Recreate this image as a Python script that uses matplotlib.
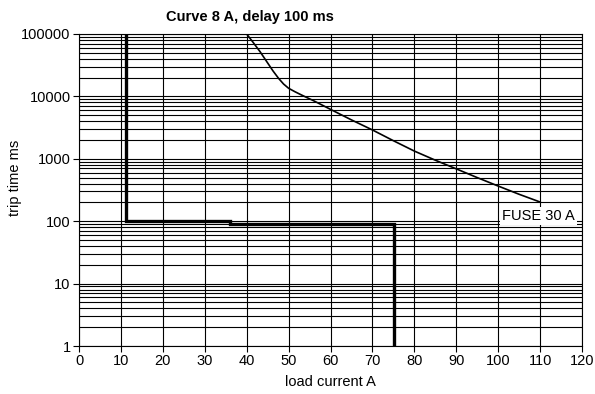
import matplotlib
matplotlib.use("Agg")
import matplotlib.pyplot as plt
from matplotlib.ticker import LogLocator, FixedLocator, NullFormatter

plt.rcParams['font.family'] = ['Liberation Sans', 'DejaVu Sans']

# Fuse 30 A characteristic (load current A, trip time ms)
fuse_current = [40, 41.5, 43.2, 44.8, 46.3, 47.6, 48.8, 50, 51.5, 53, 56, 60, 65, 70, 75, 80, 85, 90, 95, 100, 105, 110]
fuse_time = [100000, 74000, 52000, 36000, 25500, 19500, 15800, 13500, 11900, 10600, 8500, 6200, 4200, 2900, 1950, 1330, 950, 690, 500, 366, 270, 203]

# Electronic breaker curve 8 A, delay 100 ms (step)
step_current = [11.2, 11.2, 36, 36, 75.2, 75.2]
step_time = [100000, 100, 100, 90, 90, 1]

x_ticks = [0, 10, 20, 30, 40, 50, 60, 70, 80, 90, 100, 110, 120]
y_ticks = [1, 10, 100, 1000, 10000, 100000]
y_labels = ['1', '10', '100', '1000', '10000', '100000']

fig = plt.figure(figsize=(5.95, 3.94), dpi=100)
ax = fig.add_axes([79/595, 48/394, 503/595, 312/394])

ax.set_yscale('log')
ax.set_xlim(0, 120)
ax.set_ylim(1, 100000)

ax.xaxis.set_major_locator(FixedLocator(x_ticks))
ax.set_xticklabels([str(t) for t in x_ticks])
ax.yaxis.set_major_locator(FixedLocator(y_ticks))
ax.set_yticklabels(y_labels)
ax.yaxis.set_minor_locator(LogLocator(base=10, subs=range(2, 10)))
ax.yaxis.set_minor_formatter(NullFormatter())

ax.grid(True, which='major', color='black', lw=0.8)
ax.grid(True, which='minor', axis='y', color='black', lw=0.8)
ax.tick_params(axis='both', which='major', labelsize=10.5, length=4, width=0.8, direction='out', pad=2)
ax.tick_params(axis='y', which='minor', length=0)
for s in ax.spines.values():
    s.set_linewidth(0.8)

ax.plot(fuse_current, fuse_time, color='black', lw=1.2, zorder=3)
ax.plot(step_current, step_time, color='black', lw=2.4, solid_joinstyle='miter', zorder=3)

ax.text(101, 120, 'FUSE 30 A', fontsize=10.5, va='center', ha='left', zorder=4,
        bbox=dict(facecolor='white', edgecolor='none', pad=1.5))

ax.set_xlabel('load current A', fontsize=10.5, labelpad=5)
ax.set_ylabel('trip time ms', fontsize=10.5)
ax.yaxis.set_label_coords(-0.113, 0.538)
fig.text(250/595, 1 - 17/394, 'Curve 8 A, delay 100 ms', fontsize=10.5, fontweight='bold',
         ha='center', va='center')

fig.savefig('out.png', dpi=100)
